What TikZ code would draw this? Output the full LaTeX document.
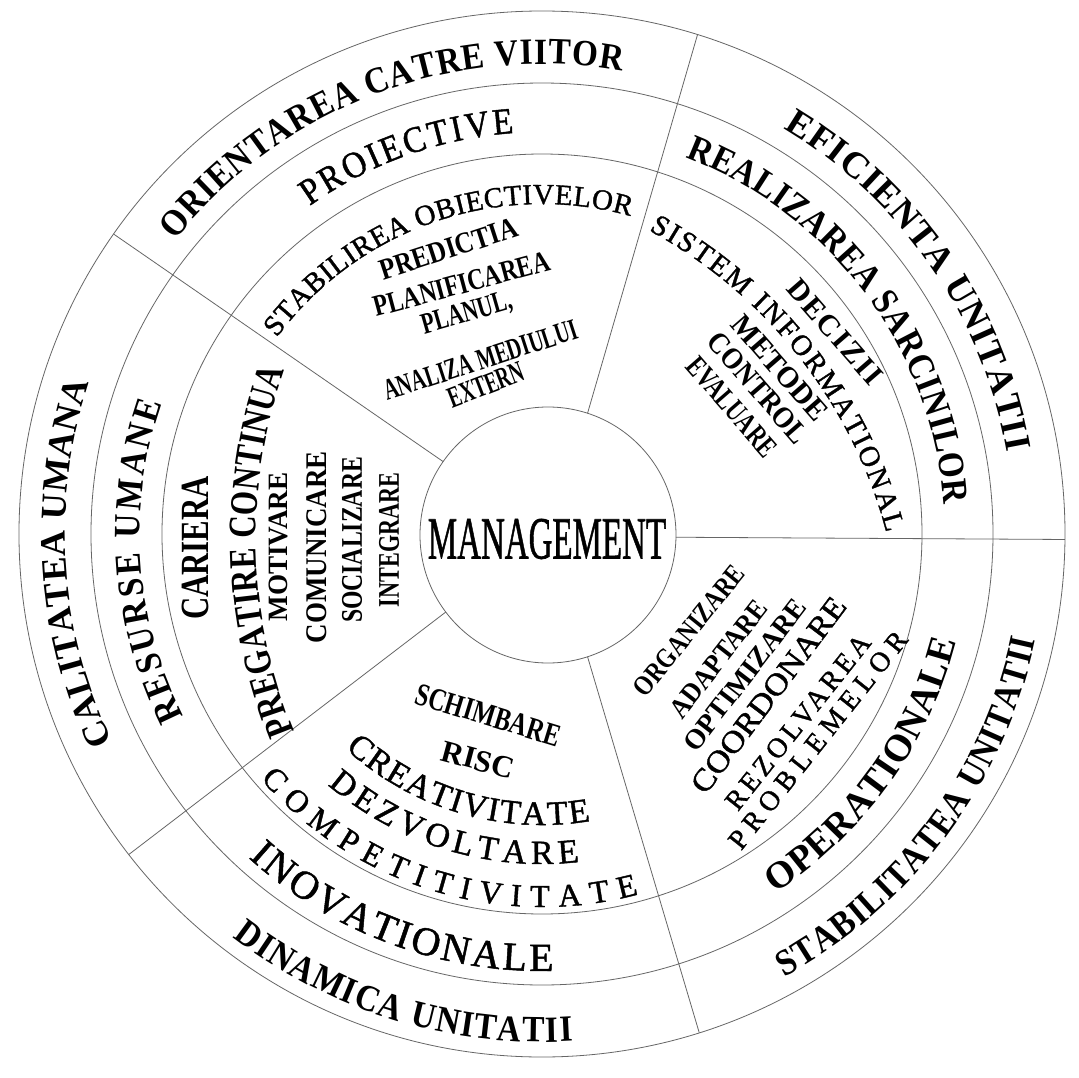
\documentclass[tikz,border=0pt]{standalone}
\usepackage{fontspec}
\usepackage{graphicx}
\setmainfont{Liberation Serif}
\newfontfamily\narrowA{Liberation Serif}[FakeStretch=0.8]
\newfontfamily\narrowB{Liberation Serif}[FakeStretch=0.9]
\newfontfamily\med{Liberation Serif}[FakeBold=1.2]
\newfontfamily\medB{Liberation Serif}[FakeStretch=0.9, FakeBold=1.2]
\usetikzlibrary{decorations.text}
\newcommand\fz[1]{\fontsize{#1}{#1}\selectfont}

\tikzset{
  ring/.style={draw=black!60, line width=0.8pt},
  spoke/.style={draw=black!60, line width=0.8pt},
  curved/.style={decorate, decoration={text along path, text align=fit to path, text={#1}}},
  word/.style={inner sep=0pt, outer sep=0pt, text=black},
}

\begin{document}
\begin{tikzpicture}[x=1pt, y=1pt]
\useasboundingbox (-542,-543) rectangle (537,534);
\fill[white] (-542,-543) rectangle (537,534);

% concentric rings
\draw[ring] (0,0) circle[radius=523];
\draw[ring] (0,0) circle[radius=451];
\draw[ring] (0,0) circle[radius=380];

% core circle
\node[circle, minimum size=256pt, inner sep=0pt, outer sep=0pt, ring, fill=white] (core) at (6,-1) {};
\node[word] (mgmt) at (5,-5) {\scalebox{0.55}[1]{\med\fz{60}MANAGEMENT}};

% five spokes from the core to the outer ring
\draw[spoke] (core.145) -- (145:523);
\draw[spoke] (core.72.7) -- (72.7:523);
\draw[spoke] (core.-1) -- (-0.6:523);
\draw[spoke] (core.-72.5) -- (-72.5:523);
\draw[spoke] (core.217.8) -- (217.8:523);

% outer ring
\path[curved={|\narrowB\bfseries\fz{37}|ORIENTAREA CATRE VIITOR}] (141.3:470) arc[start angle=141.3, end angle=80.2, radius=470];
\path[curved={|\bfseries\fz{37}|EFICIENTA UNITATII}] (59.2:472) arc[start angle=59.2, end angle=10.0, radius=472];
\path[curved={|\narrowB\bfseries\fz{37}|STABILITATEA UNITATII}] (-61.3:505) arc[start angle=-61.3, end angle=-12.1, radius=505];
\path[curved={|\narrowB\bfseries\fz{37}|DINAMICA UNITATII}] (232.5:508) arc[start angle=232.5, end angle=273.5, radius=508];
\path[curved={|\bfseries\fz{36}|CALITATEA UMANA}] (205.8:477) arc[start angle=205.8, end angle=161.5, radius=477];

% middle ring
\path[curved={|\medB\fz{37}|PROIECTIVE}] (125.3:402) arc[start angle=125.3, end angle=94, radius=402];
\path[curved={|\narrowB\bfseries\fz{37}|REALIZAREA SARCINILOR}] (69.2:403) arc[start angle=69.2, end angle=4.2, radius=403];
\path[curved={|\bfseries\fz{38}|OPERATIONALE}] (-57:428) arc[start angle=-57, end angle=-14.5, radius=428];
\path[curved={|\med\fz{40}|INOVATIONALE}] (227.8:437) arc[start angle=227.8, end angle=271.5, radius=437];
\path[curved={|\narrowB\bfseries\fz{37}|RESURSE UMANE}] (207:402) arc[start angle=207, end angle=161, radius=402];

% top sector
\path[curved={|\med\fz{29}|STABILIREA OBIECTIVELOR}] (143.5:330) arc[start angle=143.5, end angle=74.5, radius=330];
\node[word, rotate=18] (predictia) at (-93.5,285) {\scalebox{0.85}[1]{\bfseries\fz{30}PREDICTIA}};
\node[word, rotate=15] (planificarea) at (-80.5,250) {\scalebox{0.79}[1]{\bfseries\fz{30}PLANIFICAREA}};
\node[word, rotate=16] (planul) at (-75,220) {\scalebox{0.71}[1]{\bfseries\fz{30}PLANUL,}};
\node[word, rotate=18] (analiza) at (-61.5,174) {\scalebox{0.67}[1]{\bfseries\fz{30}ANALIZA MEDIULUI}};
\node[word, rotate=21] (extern) at (-56,149) {\scalebox{0.64}[1]{\bfseries\fz{30}EXTERN}};

% upper right sector
\path[curved={|\med\fz{29}|SISTEM INFORMATIONAL}] ([shift={(-124.5,-122.5)}]61.5:485) arc[start angle=61.5, end angle=14.8, radius=485];
\node[word, rotate=-49] (decizii) at (293,202) {\bfseries\fz{30}\addfontfeatures{LetterSpace=6}DECIZII};
\node[word, rotate=-49] (metode) at (238,166) {\scalebox{0.98}[1]{\bfseries\fz{30}METODE}};
\node[word, rotate=-49] (control) at (216,146) {\scalebox{0.9}[1]{\bfseries\fz{30}CONTROL}};
\node[word, rotate=-49] (evaluare) at (190,127) {\scalebox{0.74}[1]{\bfseries\fz{30}EVALUARE}};

% lower right sector
\node[word, rotate=51] (organizare) at (147,-97) {\scalebox{0.83}[1]{\bfseries\fz{28}ORGANIZARE}};
\node[word, rotate=52] (adaptare) at (176.5,-125) {\scalebox{0.92}[1]{\bfseries\fz{28}ADAPTARE}};
\node[word, rotate=52.4] (optimizare) at (203,-141) {\bfseries\fz{28}OPTIMIZARE};
\node[word, rotate=53] (coordonare) at (226.5,-161) {\scalebox{1.1}[1]{\med\fz{31}COORDONARE}};
\node[word, rotate=51.5] (rezolvarea) at (256,-188) {\med\fz{28}\addfontfeatures{LetterSpace=14}REZOLVAREA};
\node[word, rotate=51.5] (problemelor) at (276,-206) {\med\fz{28}\addfontfeatures{LetterSpace=23}PROBLEMELOR};

% lower left sector
\node[word, rotate=-17] (schimbare) at (-54,-181) {\scalebox{0.76}[1]{\bfseries\fz{32}SCHIMBARE}};
\node[word, rotate=-15] (risc) at (-64,-226) {\bfseries\fz{31}RISC};
\path[curved={|\med\fz{34}|CREATIVITATE}] (227.5:291) arc[start angle=227.5, end angle=279.6, radius=291];
\path[curved={|\med\fz{34}|DEZVOLTARE}] (229.5:330) arc[start angle=229.5, end angle=276.5, radius=330];
\path[curved={|\med\fz{32}|COMPETITIVITATE}] (221:373) arc[start angle=221, end angle=285, radius=373];

% left sector
\node[word, rotate=90] (cariera) at (-347,-14) {\scalebox{0.77}[1]{\bfseries\fz{40}CARIERA}};
\path[curved={|\narrowA\bfseries\fz{39}|PREGATIRE CONTINUA}] ([shift={(223,-4)}]202.3:509) arc[start angle=202.3, end angle=160.7, radius=509];
\node[word, rotate=90] (motivare) at (-264,-13) {\scalebox{0.97}[1]{\bfseries\fz{28}MOTIVARE}};
\node[word, rotate=90] (comunicare) at (-225,-13) {\scalebox{0.9}[1]{\bfseries\fz{30}COMUNICARE}};
\node[word, rotate=90] (socializare) at (-190,-6) {\scalebox{0.79}[1]{\bfseries\fz{30}SOCIALIZARE}};
\node[word, rotate=90] (integrare) at (-153,-6) {\scalebox{0.74}[1]{\bfseries\fz{30}INTEGRARE}};
\end{tikzpicture}
\end{document}
